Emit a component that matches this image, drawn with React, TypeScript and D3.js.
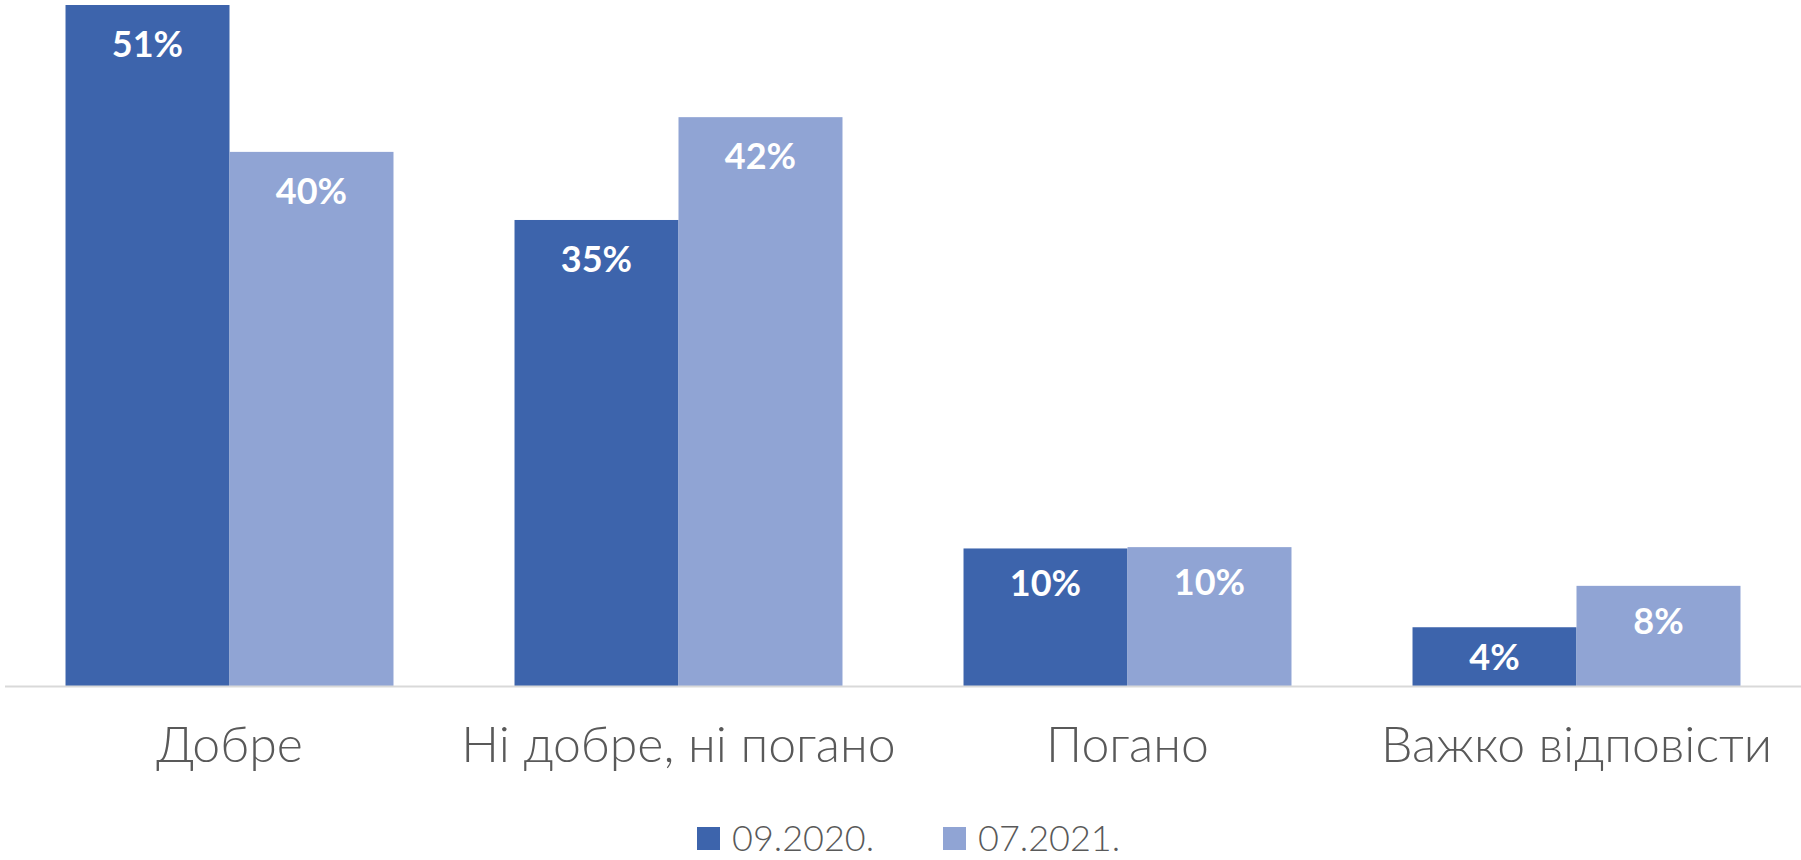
import * as d3 from "d3";
import React from "react";

const categories = ["Добре", "Ні добре, ні погано", "Погано", "Важко відповісти"];
const series = ["09.2020.", "07.2021."];
const values2020 = [51.0, 34.9, 10.3, 4.4];
const values2021 = [40.0, 42.6, 10.4, 7.5];
const labels2020 = ["51%", "35%", "10%", "4%"];
const labels2021 = ["40%", "42%", "10%", "8%"];
const colors = ["#3D64AC", "#90A4D4"];

const width = 1801;
const height = 860;

// label sits a bit higher inside short bars
const labelOffset = (h: number) => (h > 200 ? 52 : h > 80 ? 48 : 43);

const App = () => {
  const baseY = 686;
  const x0 = d3.scaleBand().domain(categories).range([5, 1801]).paddingInner(0).paddingOuter(0);
  const x1 = d3.scaleBand().domain(series).range([0, x0.bandwidth()]).paddingInner(0).paddingOuter(0.369);
  const y = d3.scaleLinear().domain([0, 51]).range([baseY, 5]);

  const rows = [
    { key: series[0], vals: values2020, labels: labels2020, color: colors[0] },
    { key: series[1], vals: values2021, labels: labels2021, color: colors[1] },
  ];

  const legendX = [697, 943];

  return (
    <svg
      width={width}
      height={height}
      style={{ position: "absolute", left: 0, top: 0, display: "block", background: "#fff" }}
    >
      {rows.map((r) => (
        <g key={r.key}>
          {categories.map((c, i) => {
            const bx = (x0(c) || 0) + (x1(r.key) || 0);
            const by = y(r.vals[i]);
            return (
              <g key={c}>
                <rect x={bx} y={by} width={x1.bandwidth()} height={baseY - by} fill={r.color} />
                <text
                  x={bx + x1.bandwidth() / 2}
                  y={by + labelOffset(baseY - by)}
                  textAnchor="middle"
                  fill="#fff"
                  fontFamily="Lato, 'Open Sans', sans-serif"
                  fontWeight={700}
                  fontSize={36}
                >
                  {r.labels[i]}
                </text>
              </g>
            );
          })}
        </g>
      ))}
      <line x1={5} x2={1801} y1={baseY + 0.5} y2={baseY + 0.5} stroke="#D9D9D9" strokeWidth={2} />
      {categories.map((c) => (
        <text
          key={c}
          x={(x0(c) || 0) + x0.bandwidth() / 2}
          y={762}
          textAnchor="middle"
          fill="#595959"
          fontFamily="Lato, 'Open Sans', sans-serif"
          fontWeight={300}
          fontSize={50}
        >
          {c}
        </text>
      ))}
      {series.map((s, i) => (
        <g key={s}>
          <rect x={legendX[i]} y={827} width={23} height={23} fill={colors[i]} />
          <text
            x={legendX[i] + 35}
            y={851}
            fill="#595959"
            fontFamily="Lato, 'Open Sans', sans-serif"
            fontWeight={300}
            fontSize={36}
          >
            {s}
          </text>
        </g>
      ))}
    </svg>
  );
};

export default App;
